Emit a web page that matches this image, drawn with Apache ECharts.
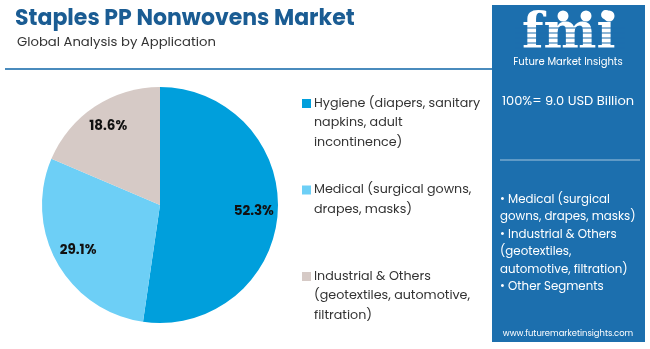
<!DOCTYPE html>
<html>
<head>
<meta charset="utf-8">
<script src="https://cdn.jsdelivr.net/npm/echarts@6/dist/echarts.min.js"></script>
<style>html,body{margin:0;padding:0;background:#fff}#c{width:650px;height:349px}</style>
</head>
<body>
<div id="c"></div>
<script>
const categories = ['Hygiene', 'Medical', 'Industrial & Others'];
const legendLines = [
  ['Hygiene (diapers, sanitary', 'napkins, adult', 'incontinence)'],
  ['Medical (surgical gowns,', 'drapes, masks)', ' '],
  ['Industrial & Others', '(geotextiles, automotive,', 'filtration)']
];
const values = [52.3, 29.1, 18.6];
const labels = ['52.3%', '29.1%', '18.6%'];
const colors = ['#009fdc', '#6dcff6', '#d6cac6'];
const totalText = '100%= 9.0 USD Billion';
const panelBullets = ['• Medical (surgical', 'gowns, drapes, masks)', '• Industrial & Others', '(geotextiles,', 'automotive, filtration)', '• Other Segments'];

const FONT = 'Poppins, "Open Sans", sans-serif';
const chart = echarts.init(document.getElementById('c'), null, {renderer: 'canvas'});
const pieData = categories.map((n, i) => ({name: n, value: values[i], itemStyle: {color: colors[i]}}));
const rich = {t: {fontSize: 12.7, color: '#333', lineHeight: 19.5, fontFamily: FONT}, sp: {width: 12, height: 10}};
colors.forEach((c, i) => { rich['sq' + i] = {width: 9, height: 9, backgroundColor: c}; });

chart.setOption({
  animation: false,
  title: [
    {text: 'Staples PP Nonwovens Market', left: 10, top: 3,
     textStyle: {fontSize: 22, fontWeight: 'bold', color: '#1a5c93', fontFamily: FONT}},
    {text: 'Global Analysis by Application', left: 12, top: 31,
     textStyle: {fontSize: 13.2, fontWeight: 'normal', color: '#333', fontFamily: FONT}}
  ],
  legend: {
    orient: 'vertical', left: 292, top: 92, itemWidth: 0, itemHeight: 0, itemGap: 34.5, icon: 'rect',
    selectedMode: false,
    data: categories,
    formatter: function (name) {
      const i = categories.indexOf(name);
      const ls = legendLines[i];
      return ls.map((l, k) => (k === 0 ? '{sq' + i + '|}{sp2|}' : '{sp|}') + '{t|' + l + '}').join('\n');
    },
    textStyle: {rich: Object.assign({sp2: {width: 3, height: 10}}, rich)}
  },
  series: [
    {type: 'pie', radius: [0, 118], center: [160, 205], startAngle: 90, clockwise: true,
     data: pieData, label: {show: false}, labelLine: {show: false}, silent: true},
    {type: 'pie', radius: [64, 118], center: [160, 205], startAngle: 90, clockwise: true,
     data: categories.map((n, i) => ({name: n, value: values[i], label: {formatter: labels[i]}})),
     itemStyle: {color: 'rgba(0,0,0,0)'}, silent: true, legendHoverLink: false,
     label: {show: true, position: 'inside', fontSize: 13.5, fontWeight: 'bold', color: '#111', fontFamily: FONT},
     labelLine: {show: false}}
  ],
  graphic: [
    {type: 'line', shape: {x1: 5, y1: 69, x2: 492, y2: 69}, style: {stroke: '#4a8bbd', lineWidth: 2}},
    {type: 'rect', shape: {x: 492, y: 5, width: 153, height: 337}, style: {fill: '#1c6fae'}},
    {type: 'text', left: 522, top: 10, style: {text: 'fmi', fill: '#fff', font: 'bold 50px "DejaVu Serif", serif'}},
    {type: 'group', children: [0,1,2,3,4].map(k => ({type: 'line', shape: {x1: 515, y1: 28 + k * 5, x2: 625, y2: 28 + k * 5}, style: {stroke: '#1c6fae', lineWidth: 1.2}}))},
    {type: 'circle', shape: {cx: 563, cy: 16, r: 5.5}, style: {fill: '#fff'}},
    {type: 'circle', shape: {cx: 586, cy: 16, r: 5.5}, style: {fill: '#fff'}},
    {type: 'circle', shape: {cx: 609, cy: 16, r: 5.5}, style: {fill: '#fff'}},
    {type: 'text', x: 568, y: 62, style: {text: 'Future Market Insights', fill: '#fff', font: '10px ' + FONT, align: 'center', verticalAlign: 'middle'}},
    {type: 'text', x: 568, y: 102, style: {text: totalText, fill: '#fff', font: '13px ' + FONT, align: 'center', verticalAlign: 'middle'}},
    {type: 'line', shape: {x1: 500, y1: 160, x2: 640, y2: 160}, style: {stroke: 'rgba(255,255,255,0.6)', lineWidth: 1}},
    {type: 'text', x: 500, y: 191, style: {text: panelBullets.join('\n'), fill: '#fff', font: '11.8px ' + FONT, lineHeight: 17.5, align: 'left', verticalAlign: 'top'}},
    {type: 'text', x: 568, y: 334, style: {text: 'www.futuremarketinsights.com', fill: '#fff', font: '8.4px ' + FONT, align: 'center', verticalAlign: 'middle'}}
  ]
});
</script>
</body>
</html>
